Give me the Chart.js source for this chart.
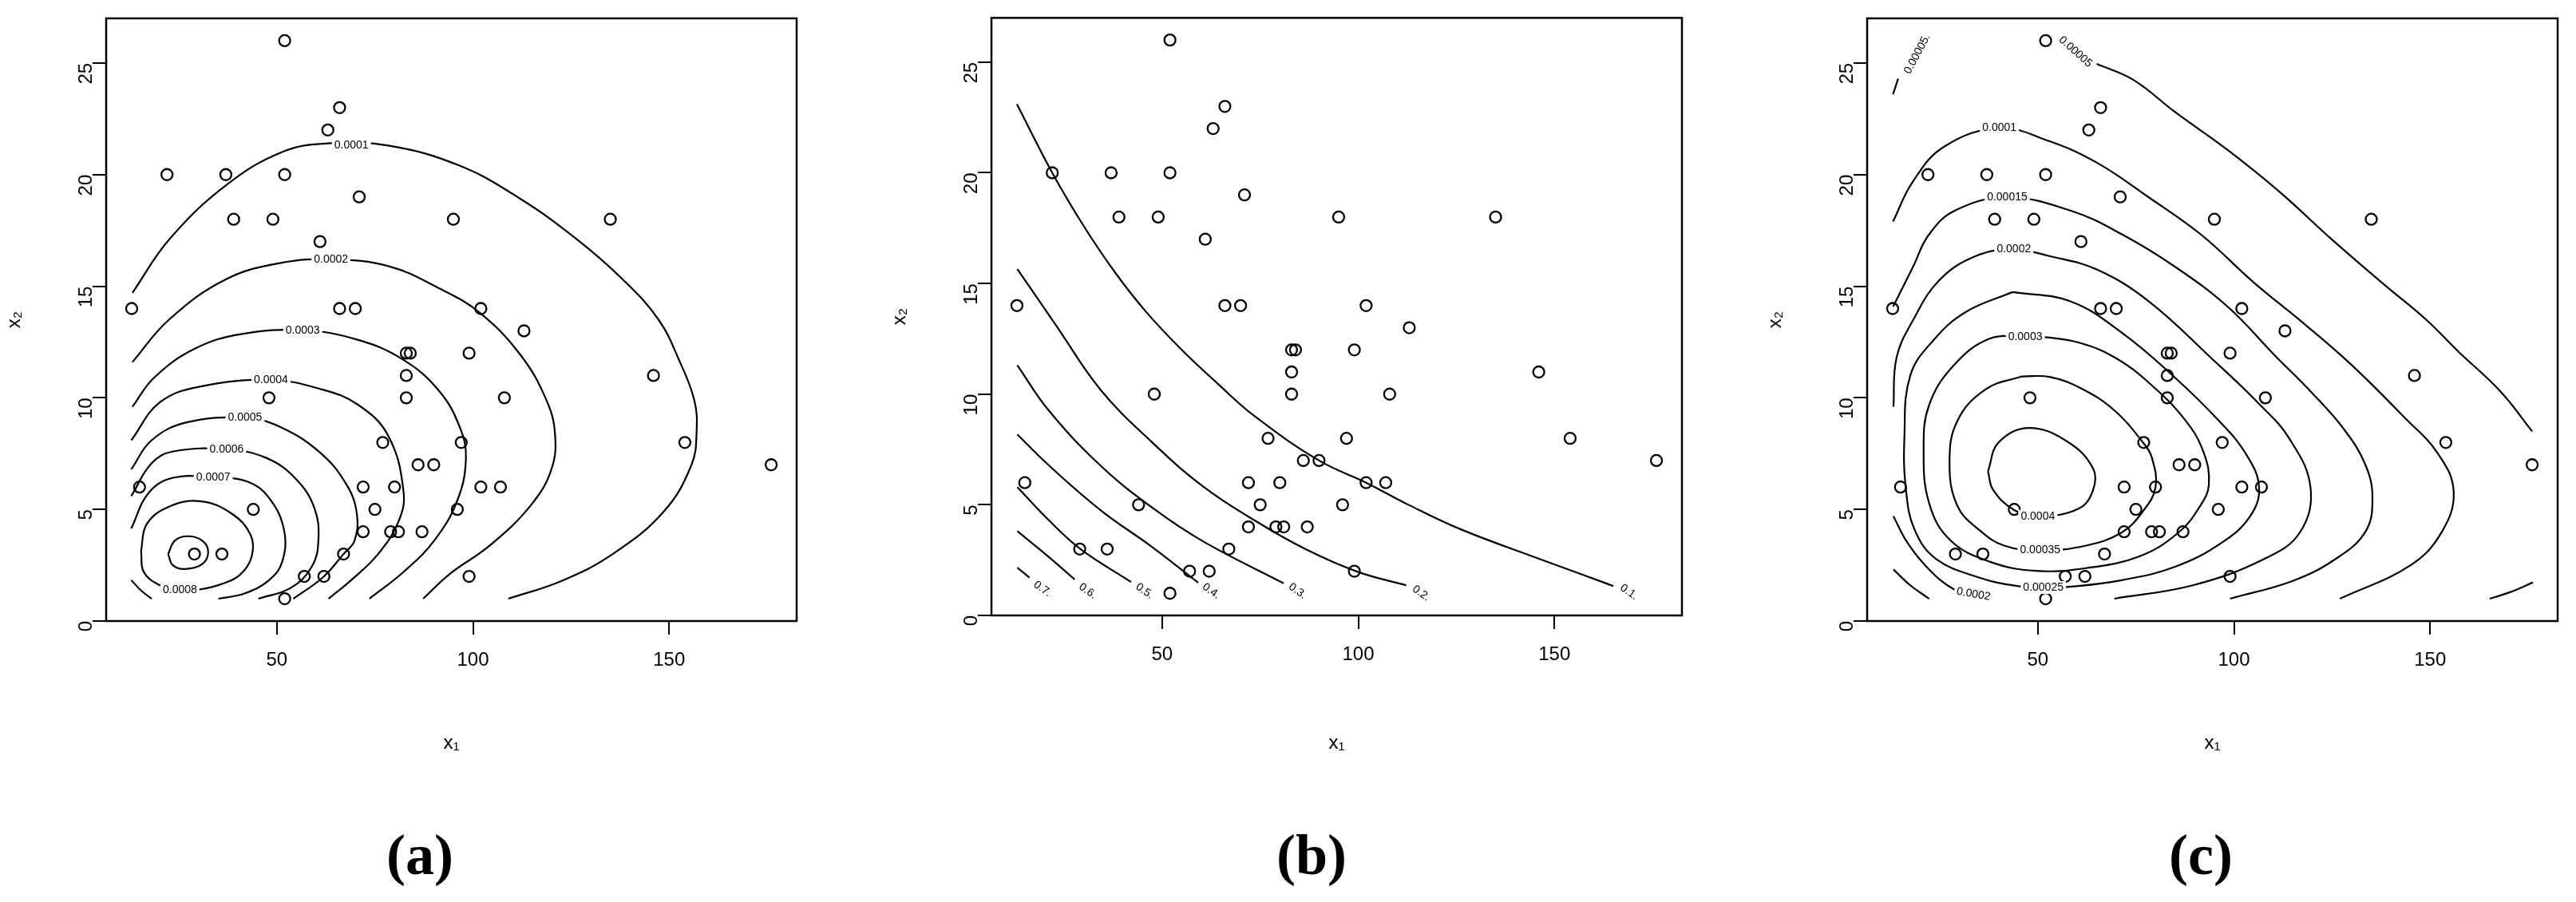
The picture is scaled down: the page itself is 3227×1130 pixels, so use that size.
<!DOCTYPE html>
<html><head><meta charset="utf-8">
<script src="https://cdn.jsdelivr.net/npm/chart.js@4"></script>
<style>
body{margin:0;background:#fff;width:3227px;height:1130px;position:relative;overflow:hidden}
.pn{position:absolute;top:0;width:1060px;height:950px}
.cap{position:absolute;top:1030px;font:bold 72px "Liberation Serif",serif;transform:translateX(-50%)}
</style></head><body>
<div class="pn" style="left:0"><canvas id="ca"></canvas></div>
<div class="pn" style="left:1109px"><canvas id="cb"></canvas></div>
<div class="pn" style="left:2206px"><canvas id="cc"></canvas></div>
<div class="cap" style="left:526px">(a)</div>
<div class="cap" style="left:1643px">(b)</div>
<div class="cap" style="left:2757px">(c)</div>
<script>
// observed data
const X1=[52,66,63,22,37,52,71,39,49,95,135,61,13,66,70,102,113,83,84,99,83,146,48,83,108,77,97,154,86,90,176,15,72,80,102,107,44,75,96,72,79,81,87,29,36,67,57,62,99,52];
const X2=[26,23,22,20,20,20,19,18,18,18,18,17,14,14,14,14,13,12,12,12,11,11,10,10,10,8,8,8,7,7,7,6,6,6,6,6,5,5,5,4,4,4,4,3,3,3,2,2,2,1];
const xTicks=[50,100,150];
const yTicks=[0,5,10,15,20,25];

// panel (a) contours
const a1=[[13.2,14.7],[22.6,17.1],[36.9,19.5],[51.2,21.0],[62.9,21.4],[78.4,21.3],[96.6,20.4],[112.2,18.9],[126.5,17.1],[138.2,15.3],[147.3,13.5],[152.5,11.7],[156.4,9.9],[157,8.5],[155.7,7.0],[148.6,4.9],[135.6,3.0],[122.6,1.8],[109,1.0]];
const a2=[[13.2,11.6],[22.5,13.5],[36.9,15.3],[51.2,16.05],[63.8,16.2],[78.4,15.9],[91.4,14.9],[101.8,13.8],[112.2,11.9],[118.7,9.9],[120.9,8.4],[120,6.8],[114.8,5.2],[104.4,3.4],[94,2.1],[87.3,1.0]];
const a3=[[13.2,9.6],[18.7,10.9],[29.1,12.2],[40.8,12.85],[56.6,13.03],[70.6,12.6],[82.3,11.7],[91.4,10.3],[96.6,8.7],[98.2,7.3],[96,5.4],[90.1,3.6],[82.3,2.2],[73.6,1.0]];
const a4=[[12.9,8.1],[20.2,9.8],[30.4,10.5],[48.5,10.8],[61,10.4],[70.6,9.7],[78.4,8.3],[82.3,5.8],[81,4.45],[75.8,3.0],[69.4,1.9],[63.2,1.0]];
const a5=[[12.9,6.8],[18.1,8.1],[27,8.9],[41.9,9.1],[50.8,8.7],[61,7.55],[67.8,6.1],[70.4,4.8],[69.8,3.6],[67,3.0],[61.7,1.95],[54.2,1.0]];
const a6=[[12.9,5.6],[18.1,7.07],[23.6,7.6],[37.2,7.69],[47.4,7.3],[54.9,6.36],[59.6,5.05],[60.6,3.62],[58.9,2.43],[53.5,1.48],[45.3,1.0]];
const a7=[[12.9,4.15],[17.4,5.76],[23.6,6.42],[33.8,6.44],[42.6,6.24],[48,5.52],[51.8,4.1],[51.4,2.67],[48,1.83],[41.9,1.24],[35.1,1.0]];
const a7b=[[12.9,1.83],[15.5,1.35],[18.1,1.0]];
const a8=[[15.4,3.14],[16.8,4.33],[22.2,5.1],[30.4,5.37],[38.5,4.81],[43.3,3.86],[43.6,2.9],[40.6,2.07],[35.8,1.65],[30.4,1.42],[25.3,1.38],[20.2,1.6],[16.1,2.19],[15.4,3.14]];
const a9=[[22.3,3.0],[24,3.6],[27.3,3.8],[31,3.6],[32.5,3.1],[31,2.55],[26.6,2.33],[23.5,2.5],[22.3,3.0]];
const aLabels=[["0.0001",69,21.3,0],["0.0002",63.8,16.2,0],["0.0003",56.6,13.03,0],["0.0004",48.5,10.79,0],["0.0005",41.9,9.1,0],["0.0006",37.2,7.69,0],["0.0007",33.8,6.44,0],["0.0008",25.3,1.38,0]];

// panel (b) contours
const b1=[[13,23.1],[22,20],[30,17.6],[38,15.5],[46,13.7],[55,12.0],[64,10.5],[73.6,9.0],[90,7],[102,6],[112.8,5],[126,3.9],[145.5,2.6],[165,1.33]];
const b2=[[13.1,15.65],[23,13.1],[34.3,10.2],[47.4,7.83],[60.5,5.82],[73.6,4.29],[86.6,2.99],[99.7,1.98],[112.2,1.36]];
const b3=[[13.1,11.3],[21.2,9.24],[34.3,6.77],[47.4,4.88],[60.5,3.34],[81,1.45]];
const b4=[[13.1,8.18],[21.2,6.77],[34.3,4.76],[47.4,3.1],[59.2,1.48]];
const b5=[[13.1,5.8],[21.2,4.29],[29.2,3],[42.1,1.51]];
const b6=[[13.1,3.81],[21.2,2.63],[27.7,1.63]];
const b7=[[13.1,2.16],[16.2,1.71]];
const bLabels=[["0.1.",169,1.05,35],["0.2.",116,1.0,35],["0.3.",84.5,1.1,35],["0.4.",62.5,1.1,35],["0.5.",45.5,1.1,35],["0.6.",31,1.1,35],["0.7.",19.5,1.2,35]];

// panel (c) contours
const c05a=[[13.1,23.6],[14.4,24.3]];
const c05b=[[65,24.96],[74.3,24.25],[85,22.8],[98.4,21.1],[111.8,19.2],[125.1,17.07],[138.5,15.04],[149,13.5],[157.2,12.07],[167.9,10.29],[176,8.5]];
const c05c=[[165.2,1.0],[170.5,1.3],[176.2,1.73]];
const c10=[[13.1,17.9],[18.2,19.7],[26.2,21.26],[40.2,22.08],[52.9,21.5],[65,20.54],[78.3,18.98],[91.7,17.3],[105.1,15.16],[118,13.3],[129.8,11.5],[143,9.2],[152,7.5],[156,5.8],[153,4],[145,2.5],[127,1.0]];
const c15=[[13.1,14.08],[18.2,15.87],[22.2,17.3],[28.9,18.39],[42.2,18.98],[58.3,18.39],[71.7,17.3],[85,15.87],[98.4,14.08],[110.4,11.9],[120,10.2],[128,8.6],[133.5,7.0],[135.3,5.5],[133.5,4.0],[125.9,2.78],[115,1.8],[99,1.0]];
const c15b=[[13.2,2.31],[17.5,1.6],[22.3,1.0]];
const c20=[[13.2,9.6],[14,11.8],[18.2,13.48],[24.9,15.27],[34.2,16.35],[43.9,16.65],[52.9,16.35],[65,15.75],[78.3,14.32],[94.4,11.75],[106,9.8],[114,8.2],[119.5,6],[116.8,3.97],[107.7,2.78],[89.5,1.6],[69.5,1.0]];
const c20b=[[13.2,4.69],[16.8,3.5],[22.3,2.31],[28.6,1.42],[33.6,1.2],[38,1.0]];
const c25=[[43.6,14.74],[58.3,14.32],[71.7,12.88],[85,10.9],[96,9.0],[103,7.5],[106.4,6],[104.1,4.69],[96.8,3.5],[85,2.43],[71.4,1.83],[58.6,1.54],[51.4,1.5],[44.1,1.59],[35,1.95],[24.1,2.78],[18.6,4.09],[16.4,5.88],[16,8.25],[17.5,11],[23.5,12.6],[31.6,13.84],[43.6,14.74]];
const c30=[[46.8,12.74],[37.7,12.65],[28.6,11.46],[22.3,9.68],[20.9,7.66],[22.3,5.28],[27.7,3.62],[37.7,2.66],[49.5,2.25],[62.3,2.37],[75.9,2.9],[85.9,3.97],[91.4,5.16],[93.6,6.11],[92.3,7.54],[87.7,8.97],[78.6,10.63],[69.5,11.82],[60.5,12.47],[52.3,12.71],[46.8,12.74]];
const c35=[[45.9,10.96],[36.8,10.39],[29.5,8.97],[27.5,7.06],[29.5,5.16],[35,4.09],[41.4,3.38],[50.6,3.16],[62.3,3.38],[71.4,3.97],[76.8,4.92],[80,5.99],[79.1,7.3],[76.8,8.0],[69.5,9.44],[61.4,10.39],[53.2,10.93],[45.9,10.96]];
const c40=[[37.3,6.71],[40,8.0],[47.7,8.65],[57.7,8.02],[64.1,6.83],[64.1,5.88],[60.5,5.04],[50,4.69],[43.9,4.98],[38.6,5.88],[37.3,6.71]];
const cLabels=[["0.00005.",19.3,25.4,-62],["0.00005",59.6,25.5,42],["0.0001",40.2,22.08,0],["0.00015",42.2,18.98,0],["0.0002",43.9,16.65,0],["0.0003",46.8,12.74,0],["0.0004",50,4.69,0],["0.00035",50.6,3.16,0],["0.00025",51.4,1.5,0],["0.0002",33.6,1.2,10]];

const pts=X1.map((x,i)=>({x:x,y:X2[i]}));
function lineDs(arr){return {type:'scatter',showLine:true,data:arr.map(p=>({x:p[0],y:p[1]})),borderColor:'#000',borderWidth:2.2,pointRadius:0,tension:0.4,fill:false};}

const boxPlugin={id:'box',afterDraw(ch){const a=ch.chartArea,c=ch.ctx;c.save();c.strokeStyle='#000';c.lineWidth=2.5;c.strokeRect(a.left,a.top,a.right-a.left,a.bottom-a.top);c.restore();}};
const labPlugin={id:'clab',afterDatasetsDraw(ch){const L=ch.config.options.plugins.clab.items,c=ch.ctx;c.save();c.font='14px "Liberation Sans",sans-serif';c.textAlign='center';c.textBaseline='middle';
 L.forEach(l=>{const px=ch.scales.x.getPixelForValue(l[1]),py=ch.scales.y.getPixelForValue(l[2]);c.save();c.translate(px,py);c.rotate(l[3]*Math.PI/180);const w=c.measureText(l[0]).width;c.fillStyle='#fff';c.fillRect(-w/2-3,-8,w+6,16);c.fillStyle='#000';c.fillText(l[0],0,0);c.restore();});c.restore();}};

function make(id,contours,labels,top,bottom){
 const ds=contours.map(lineDs);
 ds.push({type:'scatter',data:pts,pointStyle:'circle',pointRadius:7,pointBorderWidth:2.3,borderColor:'#000',backgroundColor:'rgba(0,0,0,0)'});
 new Chart(document.getElementById(id),{type:'scatter',data:{datasets:ds},plugins:[boxPlugin,labPlugin],
 options:{responsive:true,maintainAspectRatio:false,animation:false,events:[],
  layout:{padding:{left:0,top:top,right:62,bottom:0}},
  plugins:{legend:{display:false},tooltip:{enabled:false},clab:{items:labels}},
  scales:{
   x:{type:'linear',min:6.5,max:182.5,afterBuildTicks:s=>{s.ticks=xTicks.map(v=>({value:v}));},afterFit:s=>{s.height=950-bottom;},
     grid:{drawOnChartArea:false,drawTicks:true,tickLength:17,color:'#000',lineWidth:2},border:{display:false},
     ticks:{color:'#000',font:{family:'"Liberation Sans",sans-serif',size:24},padding:18,maxRotation:0},
     title:{display:true,text:'x₁',color:'#000',font:{family:'"Liberation Sans",sans-serif',size:24},padding:{top:14}}},
   y:{type:'linear',min:0,max:27,afterBuildTicks:s=>{s.ticks=yTicks.map(v=>({value:v}));},afterFit:s=>{s.width=133;},
     grid:{drawOnChartArea:false,drawTicks:true,tickLength:17,color:'#000',lineWidth:2},border:{display:false},
     ticks:{color:'#000',font:{family:'"Liberation Sans",sans-serif',size:24},padding:8,minRotation:90,maxRotation:90},
     title:{display:true,text:'x₂',color:'#000',font:{family:'"Liberation Sans",sans-serif',size:24},padding:{top:4,bottom:4}}}
  }}});
}
make('ca',[a1,a2,a3,a4,a5,a6,a7,a7b,a8,a9],aLabels,23,778);
make('cb',[b1,b2,b3,b4,b5,b6,b7],bLabels,10,771);
make('cc',[c05a,c05b,c05c,c10,c15,c15b,c20,c20b,c25,c30,c35,c40],cLabels,23,778);
</script></body></html>
